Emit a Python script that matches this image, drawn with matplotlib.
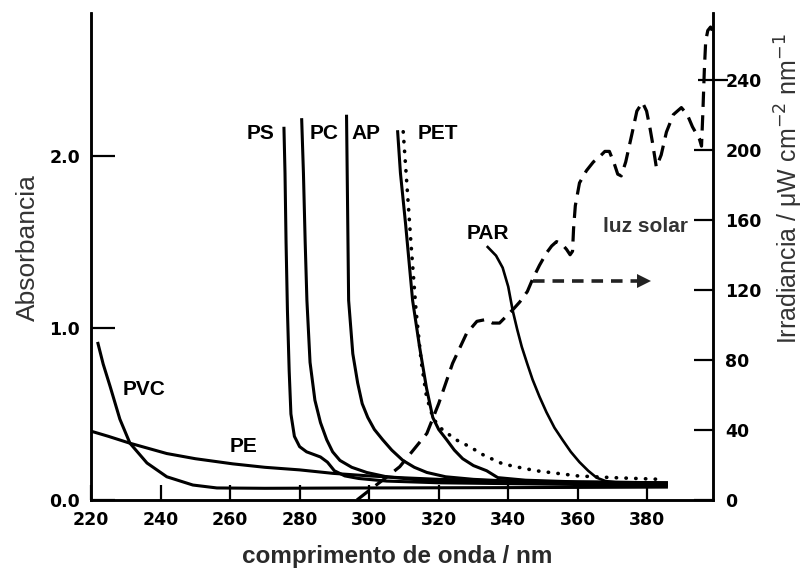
import matplotlib
matplotlib.use("Agg")
import matplotlib.pyplot as plt

# ---- dados ----
ps_nm = [275.5, 275.8, 276.1, 276.5, 277.0, 277.5, 278.5, 280.0, 282.0, 284.0, 286.0, 288.0, 290.0, 293.0, 297.0, 305.0, 320.0, 340.0, 360.0, 385.5]
ps_abs = [2.16, 1.9, 1.5, 1.1, 0.75, 0.5, 0.37, 0.31, 0.28, 0.265, 0.25, 0.22, 0.17, 0.14, 0.125, 0.11, 0.1, 0.095, 0.09, 0.085]

pc_nm = [280.6, 281.1, 281.6, 282.1, 283.0, 284.4, 286.0, 287.8, 289.5, 291.6, 295.0, 299.3, 305.0, 315.0, 330.0, 360.0, 385.5]
pc_abs = [2.21, 1.9, 1.5, 1.16, 0.8, 0.58, 0.45, 0.35, 0.28, 0.23, 0.19, 0.16, 0.135, 0.115, 0.105, 0.095, 0.09]

ap_nm = [293.5, 293.8, 294.1, 295.3, 296.7, 298.0, 299.6, 301.5, 303.9, 306.5, 309.7, 313.0, 316.6, 322.0, 330.0, 345.0, 365.0, 385.5]
ap_abs = [2.23, 1.7, 1.16, 0.85, 0.68, 0.56, 0.48, 0.41, 0.35, 0.29, 0.23, 0.19, 0.16, 0.135, 0.12, 0.105, 0.095, 0.09]

pet_nm = [308.2, 309.0, 310.5, 312.5, 314.5, 316.5, 318.3, 320.0, 322.3, 324.5, 326.9, 330.0, 333.8, 337.0, 345.0, 360.0, 385.5]
pet_abs = [2.14, 1.9, 1.6, 1.16, 0.89, 0.65, 0.48, 0.41, 0.35, 0.29, 0.24, 0.2, 0.17, 0.13, 0.115, 0.105, 0.1]

petd_nm = [309.8, 310.8, 312.0, 313.5, 315.0, 316.5, 318.5, 321.0, 325.0, 328.9, 333.0, 338.4, 343.0, 348.0, 354.0, 360.0, 370.0, 384.0]
petd_abs = [2.14, 1.85, 1.5, 1.1, 0.8, 0.6, 0.47, 0.41, 0.35, 0.31, 0.26, 0.21, 0.19, 0.17, 0.155, 0.14, 0.13, 0.12]

par_nm = [334.1, 336.5, 338.4, 340.0, 341.3, 342.6, 343.9, 345.5, 347.0, 349.0, 351.0, 353.3, 355.6, 358.0, 360.5, 363.0, 365.4, 368.0, 372.0, 380.0, 385.5]
par_abs = [1.47, 1.42, 1.35, 1.24, 1.1, 0.99, 0.89, 0.79, 0.7, 0.6, 0.51, 0.42, 0.35, 0.28, 0.22, 0.17, 0.13, 0.11, 0.1, 0.09, 0.085]

pvc_nm = [222.0, 223.5, 225.5, 228.3, 231.2, 236.1, 241.8, 249.3, 256.2, 270.0, 300.0, 340.0, 385.5]
pvc_abs = [0.91, 0.79, 0.66, 0.47, 0.33, 0.215, 0.135, 0.087, 0.07, 0.068, 0.07, 0.072, 0.075]

pe_nm = [220.0, 225.0, 231.2, 241.8, 250.0, 260.8, 270.0, 280.0, 289.5, 300.0, 308.8, 320.0, 340.0, 360.0, 385.5]
pe_abs = [0.4, 0.37, 0.33, 0.27, 0.24, 0.21, 0.19, 0.175, 0.155, 0.14, 0.13, 0.12, 0.11, 0.105, 0.1]

sol_nm = [296.5, 301.0, 305.0, 308.8, 312.5, 316.6, 320.0, 324.0, 328.0, 331.0, 333.5, 335.5, 337.5, 339.5,
          341.5, 343.3, 345.5, 347.0, 349.0, 351.0, 352.5, 353.9, 355.5, 356.8, 357.8, 358.5, 358.8, 359.3,
          360.5, 362.5, 364.5, 366.3, 367.8, 369.1, 370.5, 371.5, 372.5, 373.8, 375.7, 377.0, 378.6, 379.8,
          380.8, 381.5, 382.6, 384.0, 385.5, 387.5, 389.8, 391.5, 393.0, 395.0, 395.6, 396.0, 396.4, 396.8,
          397.4, 398.2, 398.7]
sol_irr = [0, 7, 13, 19, 28, 38, 55, 78, 95, 102, 103, 101, 101, 105,
           109, 113, 119, 126, 134, 141, 145, 147.5, 146, 143, 140, 142, 155, 168,
           181, 188, 193, 196, 199, 199, 192, 186, 185, 193, 210, 222, 227, 222,
           212, 204, 190, 197, 210, 220, 224, 220, 213, 206, 202, 222, 245, 262,
           268, 270, 268]

seta_nm = [347.0, 379.0]
seta_irr = [125, 125]

rotulos = ["PS", "PC", "AP", "PET", "PAR", "PVC", "PE"]
rot_nm = [264.8, 282.9, 295.0, 314.0, 328.0, 229.2, 260.0]
rot_abs = [2.13, 2.13, 2.13, 2.13, 1.55, 0.64, 0.31]

x_ticks = [220, 240, 260, 280, 300, 320, 340, 360, 380]
y_ticks = [0, 1, 2]
y_ticklabels = ["0.0", "1.0", "2.0"]
irr_ticks = [0, 40, 80, 120, 160, 200, 240]

fig = plt.figure(figsize=(8.07, 5.71), dpi=100)
ax = fig.add_axes([91 / 807, 1 - 500 / 571, (713 - 91) / 807, (500 - 13) / 571])
ax2 = ax.twinx()

lw = 2.2
ax.plot(ps_nm, ps_abs, color="black", lw=lw)
ax.plot(pc_nm, pc_abs, color="black", lw=lw)
ax.plot(ap_nm, ap_abs, color="black", lw=lw)
ax.plot(pet_nm, pet_abs, color="black", lw=lw)
ax.plot(petd_nm, petd_abs, color="black", lw=2.6, linestyle=(0, (0.1, 2.6)), dash_capstyle="round")
ax.plot(par_nm, par_abs, color="black", lw=1.9)
ax.plot(pvc_nm, pvc_abs, color="black", lw=lw)
ax.plot(pe_nm, pe_abs, color="black", lw=lw)

for t, xv, yv in zip(rotulos, rot_nm, rot_abs):
    ax.text(xv, yv, t, fontsize=15, fontweight="bold", family="Liberation Sans",
            ha="left", va="center")

ax2.plot(sol_nm, sol_irr, color="black", lw=2.3, linestyle=(0, (4.8, 2.6)))
ax2.plot(seta_nm, seta_irr, color="#222222", lw=2.6, linestyle=(0, (3.2, 2.2)))
ax2.plot(seta_nm[1], seta_irr[1], marker=">", color="#222222", markersize=10, markeredgewidth=0)
ax2.text(379.5, 156, "luz solar", fontsize=15, fontweight="bold", family="Liberation Sans",
         ha="center", va="center", color="#333333")

ax.set_xlim(220, 398.9)
ax.set_ylim(0, 2.83)
ax2.set_ylim(0, 278)

for a in (ax, ax2):
    a.spines["top"].set_visible(False)
    for s in ("left", "right", "bottom"):
        a.spines[s].set_linewidth(1.8)

ax.set_xticks(x_ticks)
ax.set_yticks(y_ticks)
ax.set_yticklabels(y_ticklabels)
ax2.set_yticks(irr_ticks)

tick_font = {"family": "DejaVu Sans", "weight": "bold", "size": 12.5}
ax.tick_params(axis="x", direction="in", length=11, width=1.6, pad=8)
ax.tick_params(axis="y", direction="in", length=17, width=1.6, pad=8)
ax2.tick_params(axis="y", direction="in", length=14, width=1.6, pad=9)
for lab in ax.get_xticklabels() + ax.get_yticklabels() + ax2.get_yticklabels():
    lab.set_fontproperties(tick_font)

# o traço de 240 atravessa o eixo
t240 = ax2.yaxis.get_major_ticks()[-1]
t240.tick2line.set_marker("_")
t240.tick2line.set_markersize(22)

fig.text(28 / 807, 1 - 248 / 571, "Absorbancia", rotation=90, fontsize=19,
         family="Liberation Sans", color="#333333", ha="center", va="center")
fig.text(397 / 807, 1 - 557 / 571, "comprimento de onda / nm", fontsize=17.5, fontweight="bold",
         family="Liberation Sans", color="#2a2a2a", ha="center", va="center")
fig.text(789 / 807, 1 - 189 / 571, "Irradiancia / μW cm$^{-2}$ nm$^{-1}$", rotation=90, fontsize=18,
         family="Liberation Sans", color="#333333", ha="center", va="center")

fig.savefig("out.png", dpi=100)
